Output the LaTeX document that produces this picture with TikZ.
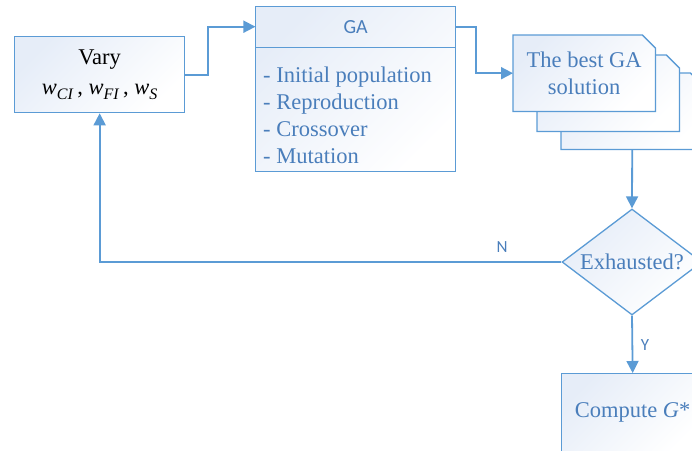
\documentclass[tikz,border=0pt]{standalone}
\usepackage{fontspec}
\setmainfont{Liberation Serif}
\newfontfamily\calib{Carlito}
\usetikzlibrary{shapes.geometric,arrows.meta}
\definecolor{lineblue}{HTML}{5B9BD5}
\definecolor{txtblue}{HTML}{4A7EBB}
\definecolor{fillblue}{HTML}{E6EDF8}
\newcommand{\wsub}[1]{\textit{w}\raisebox{-0.45ex}{\fontsize{16}{16}\selectfont\textit{#1}}}
\begin{document}
\begin{tikzpicture}[x=1pt,y=-1pt,
  box/.style={draw=lineblue, line width=1.3pt, top color=fillblue, bottom color=white, shading angle=45, inner sep=0pt},
  conn/.style={draw=lineblue, line width=1.8pt},
  arr/.style={conn, -{Triangle[length=12pt,width=12pt]}},
  lab/.style={text=txtblue, font=\calib\fontsize{17}{20}\selectfont},
  big/.style={font=\fontsize{22.5}{27}\selectfont},
  doc/.style={box},
]
\useasboundingbox (0,0) rectangle (692,450);
\clip (0,0) rectangle (692,450);

% Vary
\node[box, big, anchor=north west, minimum width=170pt, minimum height=76pt, align=center] (vary) at (14,36)
  {Vary\\[3pt] \wsub{CI}\,, \wsub{FI}\,, \wsub{S}};

% GA box
\node[box, anchor=north west, minimum width=200pt, minimum height=165pt] (ga) at (255,6) {};
\node[anchor=north, minimum width=200pt, minimum height=41pt, inner sep=0pt, text=txtblue,
  font=\calib\fontsize{20}{24}\selectfont] (gahead) at (ga.north) {GA};
\draw[draw=lineblue, line width=1.3pt] (gahead.south west) -- (gahead.south east);
\node[big, text=txtblue, anchor=north west, align=left, inner sep=0pt] (galist) at (263,67)
  {- Initial population\\- Reproduction\\- Crossover\\- Mutation};

% best GA solution stack
\node[anchor=north west, minimum width=142pt, minimum height=76pt, inner sep=0pt] (best3) at (561,73) {};
\node[anchor=north west, minimum width=142pt, minimum height=76pt, inner sep=0pt] (best2) at (537,55) {};
\node[anchor=north west, minimum width=142pt, minimum height=76pt, inner sep=0pt] (best) at (513,35) {};
\foreach \n in {best3,best2,best}{
  \path[doc] (\n.north west) -- ([xshift=-13pt]\n.north east) -- ([yshift=-13pt]\n.north east)
    -- (\n.south east) -- (\n.south west) -- cycle;
}
\node[big, text=txtblue, align=center, inner sep=0pt] at (best.center) {The best GA\\solution};

% decision
\node[diamond, box, aspect=1.32, minimum width=140pt, minimum height=106pt, big, text=txtblue] (exh) at (632,262) {Exhausted?};

% compute
\node[box, anchor=north west, minimum width=142pt, minimum height=78pt, big, text=txtblue] (comp) at (561,373) {Compute \textit{G}*};

% connectors
\draw[arr] (vary.east) -- ++(23,0) |- (gahead.west);
\draw[arr] (gahead.east) -- ++(20,0) |- (best.west);
\draw[arr] (best3.south) -- (exh.north);
\draw[arr] (exh.west) -| (vary.south);
\draw[arr] (exh.south) -- (comp.north);
\node[lab] at (502,247) {N};
\node[lab] at (645,345) {Y};
\end{tikzpicture}
\end{document}
